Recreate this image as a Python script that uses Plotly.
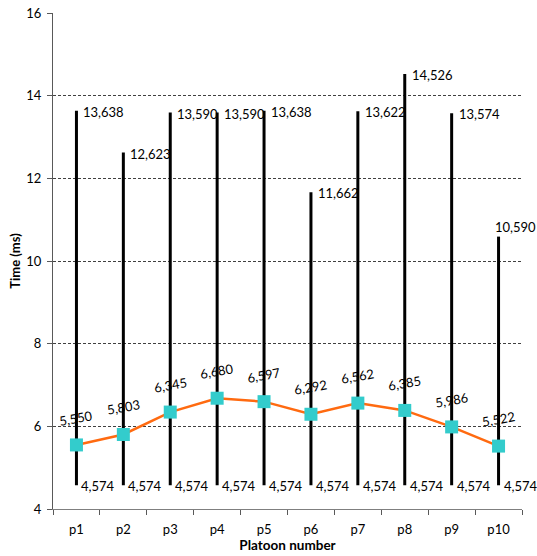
import plotly.graph_objects as go

categories = ["p1", "p2", "p3", "p4", "p5", "p6", "p7", "p8", "p9", "p10"]
max_time = [13.638, 12.623, 13.590, 13.590, 13.638, 11.662, 13.622, 14.526, 13.574, 10.590]
min_time = [4.574] * 10
mean_time = [5.550, 5.803, 6.345, 6.680, 6.597, 6.292, 6.562, 6.385, 5.986, 5.522]
y_ticks = [4, 6, 8, 10, 12, 14, 16]


def fmt(v):
    return f"{v:.3f}".replace(".", ",")


FONT = "Lato"
LBL = dict(family=FONT, size=13, color="black")
fig = go.Figure()

# vertical range lines
xs, ys = [], []
for c, lo, hi in zip(categories, min_time, max_time):
    xs += [c, c, None]
    ys += [lo, hi, None]
fig.add_trace(go.Scatter(x=xs, y=ys, mode="lines", line=dict(color="black", width=3),
                         hoverinfo="skip", showlegend=False))

# mean line
fig.add_trace(go.Scatter(x=categories, y=mean_time, mode="lines+markers",
                         line=dict(color="#FF6A10", width=2.5),
                         marker=dict(symbol="square", size=13, color="#33CCCC"),
                         showlegend=False))

# max labels (last one sits above its line)
for i, (c, v) in enumerate(zip(categories, max_time)):
    if i == len(categories) - 1:
        fig.add_annotation(x=c, y=v, text=fmt(v), showarrow=False, xanchor="left",
                           yanchor="bottom", xshift=-6, yshift=0, font=LBL)
    else:
        fig.add_annotation(x=c, y=v, text=fmt(v), showarrow=False, xanchor="left",
                           yanchor="middle", xshift=5, yshift=-1, font=LBL)
# min labels
for c, v in zip(categories, min_time):
    fig.add_annotation(x=c, y=v, text=fmt(v), showarrow=False, xanchor="left",
                       yanchor="middle", xshift=3, yshift=-1, font=LBL)
# mean labels (rotated)
for c, v in zip(categories, mean_time):
    fig.add_annotation(x=c, y=v, text=fmt(v), showarrow=False, textangle=-10,
                       yshift=27, font=LBL)

fig.update_layout(
    width=537, height=556,
    margin=dict(l=53, r=15, t=13, b=47),
    paper_bgcolor="white", plot_bgcolor="white",
    font=dict(family=FONT, size=13, color="black"),
    xaxis=dict(
        type="category", range=[-0.5, 9.5], tickson="boundaries",
        ticks="outside", ticklen=5, tickcolor="#595959",
        showline=True, linecolor="#7f7f7f", linewidth=1,
        showgrid=False, tickfont=dict(family=FONT, size=13, color="black"),
        ticklabelstandoff=8, automargin=False,
        title=dict(text="<b>Platoon number</b>", font=dict(family=FONT, size=13.5, color="black"), standoff=0),
    ),
    yaxis=dict(
        range=[4, 16], tickvals=y_ticks, ticktext=[str(t) for t in y_ticks],
        ticks="outside", ticklen=5, tickcolor="#595959",
        showline=True, linecolor="#595959", linewidth=1,
        showgrid=True, gridcolor="#404040", griddash="3px,2px", gridwidth=1,
        zeroline=False, tickfont=dict(family=FONT, size=13, color="black"),
        ticklabelstandoff=3, automargin=False,
        title=dict(text="<b>Time (ms)</b>", font=dict(family=FONT, size=13, color="black"), standoff=2),
    ),
)

fig.write_html("out.html", config={"displayModeBar": False},
               post_script="document.body.style.margin='0';document.body.style.overflow='hidden';")
